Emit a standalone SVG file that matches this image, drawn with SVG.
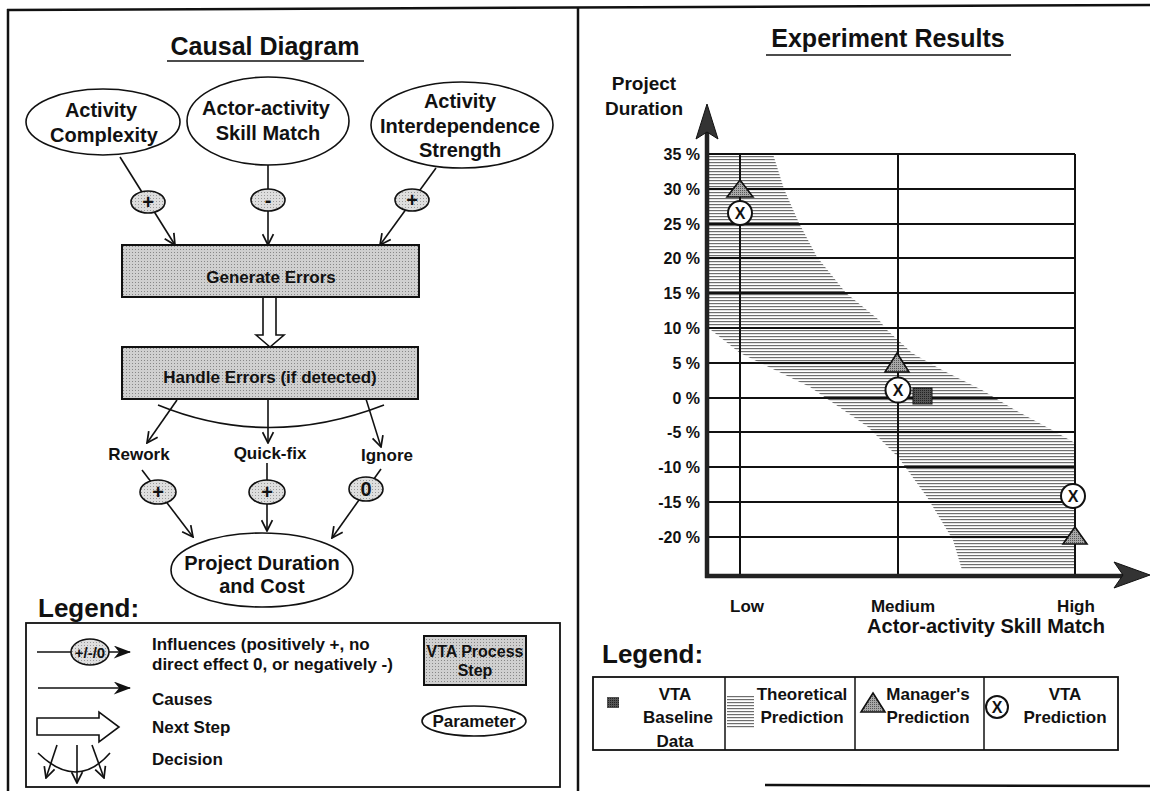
<svg xmlns="http://www.w3.org/2000/svg" width="1150" height="791" viewBox="0 0 1150 791">
<defs>
<style>
text { font-family: "Liberation Sans", Arial, sans-serif; font-weight: bold; fill: #111; }
.ttl { font-size: 25px; text-anchor: middle; }
.lg { font-size: 26px; }
.nt { font-size: 20px; text-anchor: middle; }
.st { font-size: 17px; text-anchor: middle; }
.sm { font-size: 17px; }
.smc { font-size: 17px; text-anchor: middle; }
.ya { font-size: 16px; text-anchor: end; }
.sign { font-size: 20px; text-anchor: middle; }
.node { fill: #fff; stroke: #111; stroke-width: 1.6; }
.step { fill: url(#dots); stroke: #111; stroke-width: 2; }
.inf { fill: url(#ldots); stroke: #111; stroke-width: 1.6; }
.conn { stroke: #111; stroke-width: 1.6; fill: none; }
.grid { stroke: #111; stroke-width: 2; }
.frame { stroke: #111; stroke-width: 2.5; fill: none; }
.tri { fill: url(#tdots); stroke: #111; stroke-width: 1.6; }
.xc { fill: #fff; stroke: #111; stroke-width: 2; }
</style>
<marker id="arr" viewBox="0 0 12 12" refX="11" refY="6" markerWidth="13" markerHeight="13" markerUnits="userSpaceOnUse" orient="auto"><path d="M1,1 L11,6 L1,11" fill="none" stroke="#111" stroke-width="1.6"/></marker>
<marker id="barb" viewBox="0 0 16 12" refX="15" refY="6" markerWidth="18" markerHeight="13" markerUnits="userSpaceOnUse" orient="auto"><path d="M0,0 L16,6 L0,12 L5,6 z" fill="#111"/></marker>
<pattern id="hatch" width="4" height="3" patternUnits="userSpaceOnUse"><rect width="4" height="3" fill="#fff"/><rect width="4" height="1.2" fill="#6e6e6e"/></pattern>
<pattern id="dots" width="3" height="3" patternUnits="userSpaceOnUse"><rect width="3" height="3" fill="#d0d0d0"/><rect width="1" height="1" fill="#888"/></pattern>
<pattern id="ldots" width="3" height="3" patternUnits="userSpaceOnUse"><rect width="3" height="3" fill="#dedede"/><rect width="1" height="1" fill="#999"/></pattern>
<pattern id="tdots" width="2" height="2" patternUnits="userSpaceOnUse"><rect width="2" height="2" fill="#a8a8a8"/><rect width="1" height="1" fill="#555"/></pattern>
<pattern id="sdots" width="2" height="2" patternUnits="userSpaceOnUse"><rect width="2" height="2" fill="#555"/><rect width="1" height="1" fill="#222"/></pattern>
</defs>
<rect width="1150" height="791" fill="#fff"/>

<!-- frame -->
<g id="frame">
<line class="frame" x1="7" y1="10" x2="1150" y2="5"/>
<line class="frame" x1="8" y1="9" x2="8" y2="791"/>
<line class="frame" x1="578" y1="8" x2="578" y2="791"/>
<line class="frame" x1="765" y1="785" x2="1150" y2="786"/>
</g>

<!-- ===== LEFT: Causal Diagram ===== -->
<text class="ttl" x="265" y="55">Causal Diagram</text>
<line x1="167" y1="61" x2="364" y2="61" stroke="#111" stroke-width="1.5"/>

<g id="connectors">
<line class="conn" x1="120" y1="157" x2="175" y2="245" marker-end="url(#arr)"/>
<line class="conn" x1="268" y1="165" x2="268" y2="245" marker-end="url(#arr)"/>
<line class="conn" x1="436" y1="168" x2="380" y2="245" marker-end="url(#arr)"/>
<polygon points="263,297 276,297 276,335 284,335 270,347 256,335 263,335" fill="#fff" stroke="#111" stroke-width="1.6"/>
<path class="conn" d="M158,405 Q268,450 384,405"/>
<line class="conn" x1="177" y1="400" x2="147" y2="443" marker-end="url(#arr)"/>
<line class="conn" x1="268" y1="399" x2="268" y2="443" marker-end="url(#arr)"/>
<line class="conn" x1="366" y1="399" x2="381" y2="447" marker-end="url(#arr)"/>
<line class="conn" x1="142" y1="470" x2="193" y2="537" marker-end="url(#arr)"/>
<line class="conn" x1="267" y1="463" x2="267" y2="531" marker-end="url(#arr)"/>
<line class="conn" x1="381" y1="469" x2="332" y2="538" marker-end="url(#arr)"/>
</g>

<g id="n-activity-complexity">
<ellipse class="node" cx="103" cy="122" rx="77" ry="33"/>
<text class="nt" x="101" y="117">Activity</text>
<text class="nt" x="104" y="142">Complexity</text>
</g>
<g id="n-skill-match">
<ellipse class="node" cx="268" cy="121" rx="81" ry="44"/>
<text class="nt" x="266" y="115">Actor-activity</text>
<text class="nt" x="268" y="140">Skill Match</text>
</g>
<g id="n-interdependence">
<ellipse class="node" cx="462" cy="125" rx="91" ry="43"/>
<text class="nt" x="460" y="108">Activity</text>
<text class="nt" x="460" y="133">Interdependence</text>
<text class="nt" x="460" y="157">Strength</text>
</g>

<g id="s1"><ellipse class="inf" cx="148" cy="202" rx="17" ry="11"/><text class="sign" x="148" y="209">+</text></g>
<g id="s2"><ellipse class="inf" cx="268" cy="200" rx="17" ry="11"/><text class="sign" x="268" y="207">-</text></g>
<g id="s3"><ellipse class="inf" cx="412" cy="200" rx="17" ry="11"/><text class="sign" x="412" y="207">+</text></g>

<g id="n-generate-errors">
<rect class="step" x="122" y="245" width="297" height="52"/>
<text class="st" x="271" y="283">Generate Errors</text>
</g>
<g id="n-handle-errors">
<rect class="step" x="122" y="347" width="296" height="52"/>
<text class="st" x="270" y="383">Handle Errors (if detected)</text>
</g>

<g id="l-rework"><text class="smc" x="139" y="460">Rework</text></g>
<g id="l-quickfix"><text class="smc" x="270" y="459">Quick-fix</text></g>
<g id="l-ignore"><text class="smc" x="387" y="461">Ignore</text></g>

<g id="s4"><ellipse class="inf" cx="158" cy="492" rx="18" ry="12"/><text class="sign" x="158" y="499">+</text></g>
<g id="s5"><ellipse class="inf" cx="267" cy="492" rx="18" ry="12"/><text class="sign" x="267" y="499">+</text></g>
<g id="s6"><ellipse class="inf" cx="366" cy="489" rx="17" ry="12"/><text class="sign" x="366" y="496">0</text></g>

<g id="n-project-duration">
<ellipse class="node" cx="262" cy="570" rx="91" ry="37"/>
<text class="nt" x="262" y="570">Project Duration</text>
<text class="nt" x="262" y="593">and Cost</text>
</g>

<!-- left legend -->
<g id="legend-left">
<text class="lg" x="38" y="617">Legend:</text>
<rect x="26" y="623" width="534" height="164" fill="none" stroke="#111" stroke-width="1.8"/>
<line class="conn" x1="37" y1="652" x2="130" y2="652" marker-end="url(#barb)"/>
<ellipse class="inf" cx="90" cy="652" rx="19" ry="13"/>
<text x="90" y="658" style="font-size:15px;text-anchor:middle">+/-/0</text>
<text class="sm" x="152" y="650">Influences (positively +, no</text>
<text class="sm" x="152" y="670">direct effect 0, or negatively -)</text>
<rect class="step" x="424" y="636" width="102" height="49"/>
<text x="475" y="657" style="font-size:16px;text-anchor:middle">VTA Process</text>
<text x="475" y="676" style="font-size:16px;text-anchor:middle">Step</text>
<line class="conn" x1="38" y1="688" x2="130" y2="688" marker-end="url(#barb)"/>
<text class="sm" x="152" y="705">Causes</text>
<ellipse class="node" cx="474" cy="721" rx="52" ry="15"/>
<text class="smc" x="474" y="727">Parameter</text>
<polygon points="37,718 99,718 99,712 119,727 99,742 99,735 37,735" fill="#fff" stroke="#111" stroke-width="1.6"/>
<text class="sm" x="152" y="733">Next Step</text>
<path class="conn" d="M38,753 Q77,791 110,753"/>
<line class="conn" x1="57" y1="745" x2="46" y2="778" marker-end="url(#arr)"/>
<line class="conn" x1="77" y1="745" x2="77" y2="783" marker-end="url(#arr)"/>
<line class="conn" x1="92" y1="745" x2="104" y2="778" marker-end="url(#arr)"/>
<text class="sm" x="152" y="765">Decision</text>
</g>

<!-- ===== RIGHT: Experiment Results ===== -->
<text class="ttl" x="888" y="47">Experiment Results</text>
<line x1="766" y1="55" x2="1011" y2="55" stroke="#111" stroke-width="1.5"/>
<text class="nt" x="644" y="90" style="font-size:19px">Project</text>
<text class="nt" x="644" y="115" style="font-size:19px">Duration</text>

<g id="chart">
<polygon points="707,154 773,154 784,189 799,223 817,257 846,293 879,320 887,330 912,353 942,370 982,390 1015,410 1052,430 1075,443 1075,570 962,570 953,540 927,497 898,457 868,427 810,387 740,353 711,330 707,330" fill="url(#hatch)"/>
<g class="grid">
<line x1="707" y1="154" x2="1075" y2="154"/>
<line x1="707" y1="189" x2="1075" y2="189"/>
<line x1="707" y1="224" x2="1075" y2="224"/>
<line x1="707" y1="258" x2="1075" y2="258"/>
<line x1="707" y1="293" x2="1075" y2="293"/>
<line x1="707" y1="328" x2="1075" y2="328"/>
<line x1="707" y1="363" x2="1075" y2="363"/>
<line x1="707" y1="398" x2="1075" y2="398"/>
<line x1="707" y1="432" x2="1075" y2="432"/>
<line x1="707" y1="467" x2="1075" y2="467"/>
<line x1="707" y1="502" x2="1075" y2="502"/>
<line x1="707" y1="537" x2="1075" y2="537"/>
<line x1="740" y1="154" x2="740" y2="576"/>
<line x1="898" y1="154" x2="898" y2="576"/>
<line x1="1075" y1="154" x2="1075" y2="576"/>
</g>
<line x1="707" y1="578" x2="707" y2="130" stroke="#222" stroke-width="4.5"/>
<polygon points="707,104 718,139 707,132 696,139" fill="#333" stroke="#111" stroke-width="1"/>
<line x1="705" y1="576" x2="1125" y2="576" stroke="#222" stroke-width="4.5"/>
<polygon points="1150,575 1114,562 1123,575 1114,588" fill="#333" stroke="#111" stroke-width="1"/>
<g id="y-labels">
<text class="ya" x="700" y="160">35 %</text>
<text class="ya" x="700" y="195">30 %</text>
<text class="ya" x="700" y="230">25 %</text>
<text class="ya" x="700" y="264">20 %</text>
<text class="ya" x="700" y="299">15 %</text>
<text class="ya" x="700" y="334">10 %</text>
<text class="ya" x="700" y="369">5 %</text>
<text class="ya" x="700" y="404">0 %</text>
<text class="ya" x="700" y="438">-5 %</text>
<text class="ya" x="700" y="473">-10 %</text>
<text class="ya" x="700" y="508">-15 %</text>
<text class="ya" x="700" y="543">-20 %</text>
</g>
<text class="smc" x="747" y="612">Low</text>
<text class="smc" x="903" y="612">Medium</text>
<text class="smc" x="1076" y="612">High</text>
<text class="nt" x="986" y="633">Actor-activity Skill Match</text>

<g id="pt-low-manager"><polygon class="tri" points="740,180 753,197 727,197"/></g>
<g id="pt-low-vta"><circle class="xc" cx="740" cy="213" r="12"/><text class="smc" x="740" y="219" style="font-size:16px">X</text></g>
<g id="pt-med-manager"><polygon class="tri" points="897,353 909,372 885,372"/></g>
<g id="pt-med-vta"><circle class="xc" cx="898" cy="390" r="12.5"/><text class="smc" x="898" y="396" style="font-size:16px">X</text></g>
<g id="pt-med-baseline"><rect x="913" y="388" width="19" height="16" fill="url(#sdots)" stroke="#111" stroke-width="1"/></g>
<g id="pt-high-vta"><circle class="xc" cx="1073" cy="496" r="12"/><text class="smc" x="1073" y="502" style="font-size:16px">X</text></g>
<g id="pt-high-manager"><polygon class="tri" points="1075,527 1087,544 1063,544"/></g>
</g>

<!-- right legend -->
<g id="legend-right">
<text class="lg" x="602" y="663">Legend:</text>
<rect x="593" y="677" width="525" height="73" fill="none" stroke="#111" stroke-width="1.8"/>
<line x1="725" y1="677" x2="725" y2="750" stroke="#111" stroke-width="1.5"/>
<line x1="855" y1="677" x2="855" y2="750" stroke="#111" stroke-width="1.5"/>
<line x1="984" y1="677" x2="984" y2="750" stroke="#111" stroke-width="1.5"/>
<rect x="607" y="697" width="12" height="11" fill="url(#sdots)"/>
<text class="smc" x="675" y="700">VTA</text>
<text class="smc" x="678" y="723">Baseline</text>
<text class="smc" x="675" y="747">Data</text>
<rect x="727" y="695" width="27" height="33" fill="url(#hatch)"/>
<text class="smc" x="802" y="700">Theoretical</text>
<text class="smc" x="802" y="723">Prediction</text>
<polygon class="tri" points="873,693 885,712 861,712"/>
<text class="smc" x="928" y="700">Manager's</text>
<text class="smc" x="928" y="723">Prediction</text>
<circle class="xc" cx="997" cy="707" r="11" stroke-width="1.5"/>
<text class="smc" x="997" y="713" style="font-size:16px">X</text>
<text class="smc" x="1065" y="700">VTA</text>
<text class="smc" x="1065" y="723">Prediction</text>
</g>
</svg>
